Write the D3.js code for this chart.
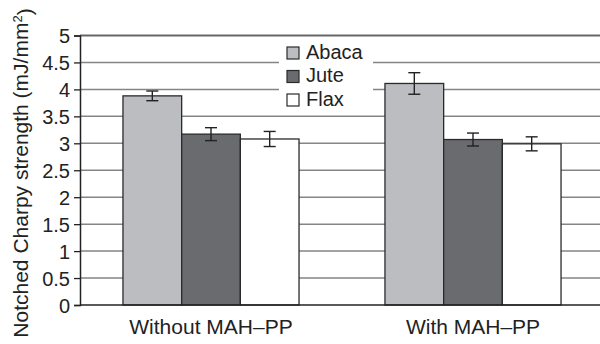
<!DOCTYPE html>
<html>
<head>
<meta charset="utf-8">
<script src="https://cdn.jsdelivr.net/npm/d3@7/dist/d3.min.js"></script>
<style>
  html, body { margin: 0; padding: 0; background: #fff; }
  svg { display: block; font-family: Arial, "Liberation Sans", Helvetica, sans-serif; }
</style>
</head>
<body>
<svg id="chart" width="600" height="344"></svg>
<script>
// Notched Charpy strength by fibre type, with and without MAH–PP coupling agent
const groups = ["Without MAH–PP", "With MAH–PP"];
const fibres = ["Abaca", "Jute", "Flax"];
const strength = [
  [3.88, 3.17, 3.08],   // Without MAH–PP
  [4.11, 3.07, 2.99]    // With MAH–PP
];
const errors = [
  [0.09, 0.12, 0.14],
  [0.20, 0.12, 0.13]
];
const yTicks = [0, 0.5, 1, 1.5, 2, 2.5, 3, 3.5, 4, 4.5, 5];
const yTickLabels = ["0", "0.5", "1", "1.5", "2", "2.5", "3", "3.5", "4", "4.5", "5"];
const fibreColors = ["#bcbdc1", "#6a6b6f", "#ffffff"];

const svg = d3.select("#chart");
const plotLeft = 80, plotRight = 604, plotTop = 35.5, plotBottom = 305;

const y = d3.scaleLinear().domain([0, 5]).range([plotBottom, plotTop]);
const x0 = d3.scaleBand().domain(groups).range([plotLeft, plotRight])
  .paddingInner(0.328).paddingOuter(0.164);
const x1 = d3.scaleBand().domain(fibres).range([0, x0.bandwidth()]);
const color = d3.scaleOrdinal().domain(fibres).range(fibreColors);

// horizontal gridlines
svg.append("g")
  .selectAll("line")
  .data(yTicks.filter(d => d > 0))
  .join("line")
  .attr("x1", plotLeft).attr("x2", 600)
  .attr("y1", d => y(d)).attr("y2", d => y(d))
  .attr("stroke", d => d === 5 ? "#666" : "#858585")
  .attr("stroke-width", d => d === 5 ? 2 : 1.5);

// bars
const rows = groups.map((g, i) => fibres.map((f, j) => ({
  group: g, fibre: f, value: strength[i][j], err: errors[i][j]
})));

const gGroups = svg.append("g")
  .selectAll("g")
  .data(rows)
  .join("g")
  .attr("transform", d => `translate(${x0(d[0].group)},0)`);

gGroups.selectAll("rect")
  .data(d => d)
  .join("rect")
  .attr("x", d => x1(d.fibre))
  .attr("y", d => y(d.value))
  .attr("width", x1.bandwidth())
  .attr("height", d => y(0) - y(d.value))
  .attr("fill", d => color(d.fibre))
  .attr("stroke", "#2a2a2a")
  .attr("stroke-width", 1.3);

// error bars
const cap = 6;
const eb = gGroups.selectAll("g.err")
  .data(d => d)
  .join("g")
  .attr("class", "err")
  .attr("stroke", "#222")
  .attr("stroke-width", 1.4);
eb.append("line")
  .attr("x1", d => x1(d.fibre) + x1.bandwidth() / 2)
  .attr("x2", d => x1(d.fibre) + x1.bandwidth() / 2)
  .attr("y1", d => y(d.value + d.err))
  .attr("y2", d => y(d.value - d.err));
eb.selectAll("line.cap")
  .data(d => [d.value + d.err, d.value - d.err].map(v => ({ v, d })))
  .join("line")
  .attr("class", "cap")
  .attr("x1", o => x1(o.d.fibre) + x1.bandwidth() / 2 - cap)
  .attr("x2", o => x1(o.d.fibre) + x1.bandwidth() / 2 + cap)
  .attr("y1", o => y(o.v))
  .attr("y2", o => y(o.v));

// y axis
const yAxis = d3.axisLeft(y)
  .tickValues(yTicks)
  .tickFormat((d, i) => yTickLabels[i])
  .tickSize(6)
  .tickPadding(4);
const ya = svg.append("g")
  .attr("transform", `translate(${plotLeft},0)`)
  .call(yAxis);
ya.select(".domain").attr("stroke", "#222").attr("stroke-width", 1.5);
ya.selectAll(".tick line").attr("stroke", "#222").attr("stroke-width", 1.3);
ya.selectAll(".tick text")
  .attr("fill", "#222")
  .style("font-size", "20px")
  .attr("dy", "0.36em");

// baseline
svg.append("line")
  .attr("x1", plotLeft).attr("x2", 600)
  .attr("y1", y(0)).attr("y2", y(0))
  .attr("stroke", "#222").attr("stroke-width", 1.5);

// x category labels
svg.append("g")
  .selectAll("text")
  .data(groups)
  .join("text")
  .attr("x", d => x0(d) + x0.bandwidth() / 2)
  .attr("y", 334)
  .attr("text-anchor", "middle")
  .attr("fill", "#222")
  .style("font-size", "21px")
  .text(d => d);

// y axis title
const yt = svg.append("text")
  .attr("transform", "translate(28,173) rotate(-90)")
  .attr("text-anchor", "middle")
  .attr("fill", "#222")
  .style("font-size", "21px");
yt.append("tspan").text("Notched Charpy strength (mJ/mm");
yt.append("tspan").attr("dy", "-0.45em").style("font-size", "13px").text("2");
yt.append("tspan").attr("dy", "0.45em").text(")");

// legend
const lg = svg.append("g");
lg.append("rect")
  .attr("x", 279).attr("y", 37.5)
  .attr("width", 94).attr("height", 77)
  .attr("fill", "#fff");
const items = lg.selectAll("g.item")
  .data(fibres)
  .join("g")
  .attr("class", "item")
  .attr("transform", (d, i) => `translate(287,${58.5 + i * 23.5})`);
items.append("rect")
  .attr("y", -11.5)
  .attr("width", 12).attr("height", 12)
  .attr("fill", d => color(d))
  .attr("stroke", "#2a2a2a")
  .attr("stroke-width", 1.2);
items.append("text")
  .attr("x", 19).attr("y", 0)
  .attr("fill", "#222")
  .style("font-size", "20px")
  .text(d => d);
</script>
</body>
</html>
